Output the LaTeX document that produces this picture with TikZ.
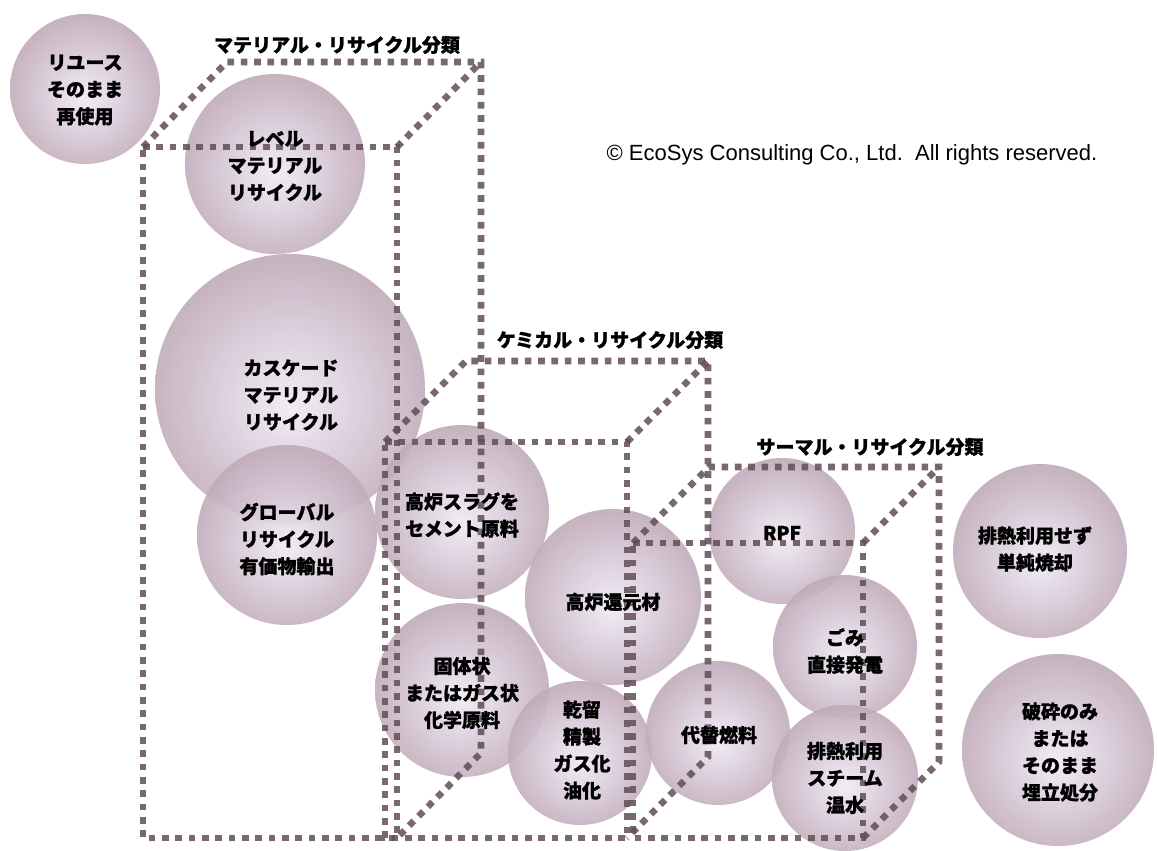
\documentclass[tikz,border=0pt]{standalone}
\usepackage{fontspec}
\setmainfont{Liberation Sans}
\newfontfamily\jpfont{Noto Sans CJK JP}[BoldFeatures={FakeBold=1.2}]
\definecolor{ballA}{RGB}{240,235,243}
\definecolor{ballB}{RGB}{222,210,224}
\definecolor{ballC}{RGB}{186,161,176}
\definecolor{ballD}{RGB}{156,123,138}
\definecolor{ballE}{RGB}{140,106,121}
\definecolor{linec}{RGB}{98,78,84}
\pgfdeclareradialshading{ballshade}{\pgfpoint{0bp}{-3bp}}{color(0bp)=(ballA); color(10bp)=(ballB); color(30bp)=(ballC); color(45bp)=(ballD); color(53bp)=(ballE)}
\tikzset{
  ball/.style={circle, inner sep=0pt, draw=none, shading=ballshade, fill opacity=0.9, minimum size=#1*0.75pt},
  balltext/.style={align=center, inner sep=0pt, text=black, font=\jpfont\bfseries\fontsize{14.25}{20.25}\selectfont},
  boxline/.style={line width=4.9pt, draw=linec, dash pattern=on 5pt off 5pt, draw opacity=0.85},
  boxlabel/.style={inner sep=0pt, text=black, font=\jpfont\bfseries\fontsize{14.25}{18}\selectfont},
}
\begin{document}
\begin{tikzpicture}[x=0.75pt, y=-0.75pt]
\useasboundingbox[fill=white] (0,0) rectangle (1157,850);

% circles
\node[ball=150] (c1) at (85,89) {};
\node[ball=180] (c2) at (275,164) {};
\node[ball=270] (c3) at (290,389) {};
\node[ball=180] (c4) at (287,535) {};
\node[ball=174] (c5) at (462,512) {};
\node[ball=174] (c6) at (462,690) {};
\node[ball=176] (c7) at (613,597) {};
\node[ball=144] (c8) at (580,753) {};
\node[ball=144] (c9) at (718,733) {};
\node[ball=146] (c10) at (782,531) {};
\node[ball=144] (c11) at (845,647) {};
\node[ball=146] (c12) at (845,778) {};
\node[ball=174] (c13) at (1040,551) {};
\node[ball=192] (c14) at (1058,750) {};

% material box
\coordinate (mFTL) at (143,147); \coordinate (mFTR) at (397,147);
\coordinate (mFBL) at (143,838); \coordinate (mFBR) at (397,838);
\coordinate (mBTL) at (227,62);  \coordinate (mBTR) at (481,62);
\coordinate (mBBR) at (481,753);
\draw[boxline] (mFTL) -- (mFTR) -- (mFBR) -- (mFBL) -- cycle;
\draw[boxline] (mFTL) -- (mBTL) -- (mBTR) -- (mBBR) -- (mFBR);
\draw[boxline] (mFTR) -- (mBTR);

% chemical box
\coordinate (cFTL) at (385,442); \coordinate (cFTR) at (627,442);
\coordinate (cFBL) at (385,838); \coordinate (cFBR) at (627,838);
\coordinate (cBTL) at (466,361); \coordinate (cBTR) at (708,361);
\coordinate (cBBR) at (708,757);
\draw[boxline] (cFTL) -- (cFTR) -- (cFBR) -- (cFBL) -- cycle;
\draw[boxline] (cFTL) -- (cBTL) -- (cBTR) -- (cBBR) -- (cFBR);
\draw[boxline] (cFTR) -- (cBTR);

% thermal box
\coordinate (tFTL) at (633,543); \coordinate (tFTR) at (863,543);
\coordinate (tFBL) at (633,838); \coordinate (tFBR) at (863,838);
\coordinate (tBTL) at (709,467); \coordinate (tBTR) at (939,467);
\coordinate (tBBR) at (939,762);
\draw[boxline] (tFTL) -- (tFTR) -- (tFBR) -- (tFBL) -- cycle;
\draw[boxline] (tFTL) -- (tBTL) -- (tBTR) -- (tBBR) -- (tFBR);
\draw[boxline] (tFTR) -- (tBTR);

% labels
\node[boxlabel] (lmat) at (337,45) {マテリアル・リサイクル分類};
\node[boxlabel] (lchem) at (610,340) {ケミカル・リサイクル分類};
\node[boxlabel] (ltherm) at (870,447) {サーマル・リサイクル分類};

% circle texts
\node[balltext] (t1) at (85,90) {リユース\\そのまま\\再使用};
\node[balltext] (t2) at (275,166) {レベル\\マテリアル\\リサイクル};
\node[balltext] (t3) at (291,395) {カスケード\\マテリアル\\リサイクル};
\node[balltext] (t4) at (287,539) {グローバル\\リサイクル\\有価物輸出};
\node[balltext] (t5) at (462,515) {高炉スラグを\\セメント原料};
\node[balltext] (t6) at (462,693) {固体状\\またはガス状\\化学原料};
\node[balltext] (t7) at (613,602) {高炉還元材};
\node[balltext] (t8) at (582,750) {乾留\\精製\\ガス化\\油化};
\node[balltext] (t9) at (719,735) {代替燃料};
\node[balltext] (t10) at (782,533) {RPF};
\node[balltext] (t11) at (845,651) {ごみ\\直接発電};
\node[balltext] (t12) at (845,778) {排熱利用\\スチーム\\温水};
\node[balltext] (t13) at (1035,549) {排熱利用せず\\単純焼却};
\node[balltext] (t14) at (1060,752) {破砕のみ\\または\\そのまま\\埋立処分};

% copyright
\node[inner sep=0pt, font=\fontsize{16.5}{19}\selectfont] (copy) at (852,155) {\textcopyright\ EcoSys Consulting Co., Ltd.\ \ All rights reserved.};
\end{tikzpicture}
\end{document}
